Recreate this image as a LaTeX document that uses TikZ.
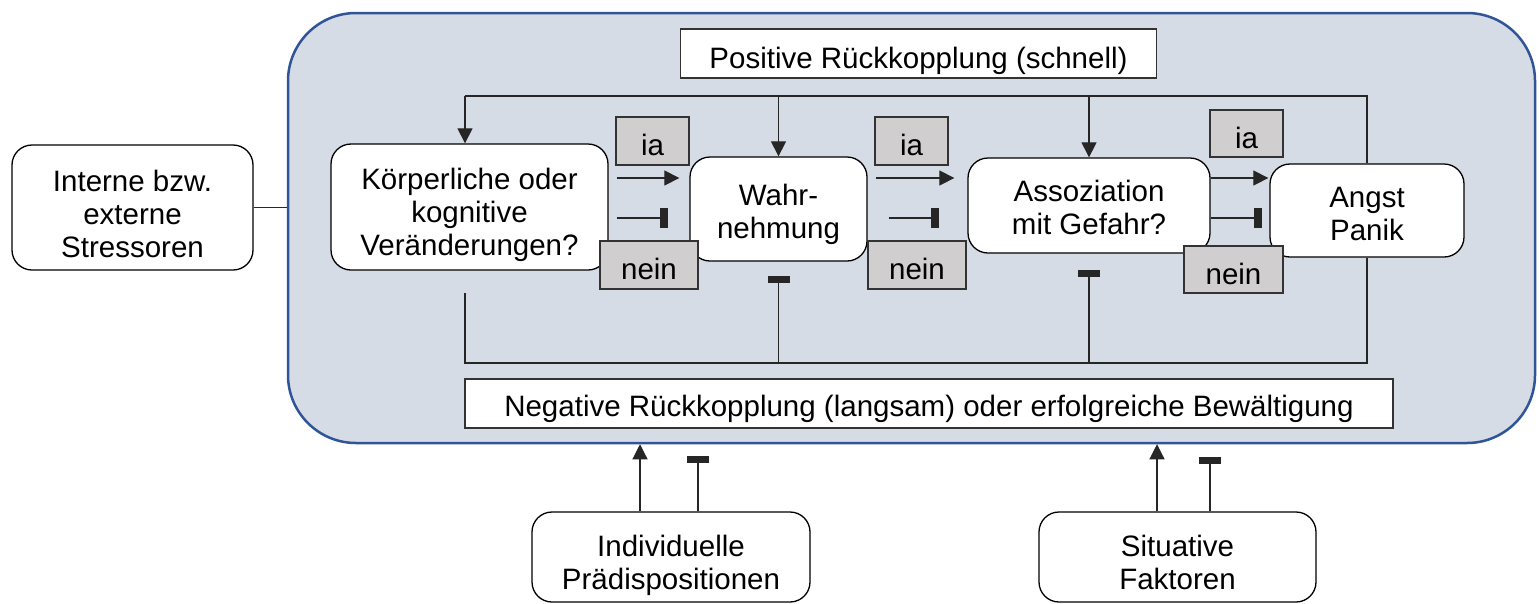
\documentclass[tikz,border=0pt]{standalone}
\usepackage{fontspec}
\setmainfont{Liberation Sans}
\usetikzlibrary{arrows.meta}
\definecolor{bgblue}{HTML}{D6DCE5}
\definecolor{edgeblue}{HTML}{2F5597}
\definecolor{graybox}{HTML}{D0CECE}
\begin{document}
\begin{tikzpicture}[x=1pt,y=-1pt,
  every node/.style={font=\fontsize{29.5}{33}\selectfont, align=center, inner sep=0pt},
  mainbox/.style={draw=black, line width=1.3pt, fill=white, rounded corners=20pt},
  labbox/.style={draw=black!80, line width=1.3pt, fill=graybox},
  titlebox/.style={draw=black!80, line width=1.3pt, fill=white},
  outerbox/.style={draw=edgeblue, line width=2.5pt, fill=bgblue, rounded corners=68pt},
  txt/.style={},
  conn/.style={line width=1.2pt, draw=black!85},
  arr/.style={conn, -{Triangle[length=15pt,width=15pt]}},
  inh/.style={conn, -{Rectangle[length=8pt,width=20pt]}},
  inhv/.style={conn, -{Rectangle[length=7pt,width=22pt]}}
]
\useasboundingbox (0,0) rectangle (1539,603);

\node[outerbox, minimum width=1247pt, minimum height=430pt] (outer) at (911.5,228) {};

% boxes
\node[mainbox, minimum width=241pt, minimum height=125pt] (stress) at (132.5,207.5) {};
\node[titlebox, minimum width=476pt, minimum height=49pt] (pos) at (918.5,53.5) {};
\node[titlebox, minimum width=928pt, minimum height=49pt] (neg) at (929,403.5) {};
\node[mainbox, minimum width=277pt, minimum height=126pt] (koerp) at (469.5,207) {};
\node[mainbox, minimum width=177pt, minimum height=104pt] (wahr) at (778.5,209) {};
\node[mainbox, minimum width=242pt, minimum height=95pt] (asso) at (1089,205.5) {};
\node[mainbox, minimum width=194pt, minimum height=93pt] (angst) at (1367,210.5) {};
\node[labbox, minimum width=73pt, minimum height=48pt] (ia1) at (652.5,141) {};
\node[labbox, minimum width=73pt, minimum height=48pt] (ia2) at (911.5,141) {};
\node[labbox, minimum width=73pt, minimum height=47pt] (ia3) at (1246.5,133.5) {};
\node[labbox, minimum width=98pt, minimum height=48pt] (nein1) at (649,265) {};
\node[labbox, minimum width=98pt, minimum height=48pt] (nein2) at (917,265) {};
\node[labbox, minimum width=99pt, minimum height=47pt] (nein3) at (1233.5,269.5) {};
\node[mainbox, minimum width=278pt, minimum height=90pt] (indiv) at (671,557) {};
\node[mainbox, minimum width=277pt, minimum height=90pt] (sit) at (1177.5,557) {};

% texts
\node[txt] (stress-t) at ([yshift=-6pt]stress.center) {Interne bzw.\\externe\\Stressoren};
\node[txt] (pos-t) at ([yshift=-7pt]pos.center) {Positive Rückkopplung (schnell)};
\node[txt] (neg-t) at ([yshift=-5pt]neg.center) {Negative Rückkopplung (langsam) oder erfolgreiche Bewältigung};
\node[txt] (koerp-t) at ([yshift=-8pt]koerp.center) {Körperliche oder\\kognitive\\Veränderungen?};
\node[txt] (wahr-t) at ([yshift=-5pt]wahr.center) {Wahr-\\nehmung};
\node[txt] (asso-t) at ([yshift=-2pt]asso.center) {Assoziation\\mit Gefahr?};
\node[txt] (angst-t) at ([yshift=-3pt]angst.center) {Angst\\Panik};
\node[txt] (ia1-t) at ([yshift=-4pt]ia1.center) {ia};
\node[txt] (ia2-t) at ([yshift=-4pt]ia2.center) {ia};
\node[txt] (ia3-t) at ([yshift=-4pt]ia3.center) {ia};
\node[txt] (nein1-t) at ([yshift=-4pt]nein1.center) {nein};
\node[txt] (nein2-t) at ([yshift=-4pt]nein2.center) {nein};
\node[txt] (nein3-t) at ([yshift=-4pt]nein3.center) {nein};
\node[txt] (indiv-t) at ([yshift=-8pt]indiv.center) {Individuelle\\Prädispositionen};
\node[txt] (sit-t) at ([yshift=-5pt]sit.center) {Situative\\Faktoren};

\coordinate (topL) at (465,96);
\coordinate (botL) at (465,363);
\coordinate (kend) at (465,293);
\coordinate (yA) at (0,178);
\coordinate (yI) at (0,218);

% stressor link
\draw[conn] (stress.east) -- (stress.east -| outer.west);

% positive feedback
\draw[conn] (angst.north) |- (topL);
\draw[arr] (topL) -- (topL |- koerp.north);
\draw[arr] (wahr.north |- topL) -- (wahr.north);
\draw[arr] (asso.north |- topL) -- (asso.north);

% negative feedback
\draw[conn] (angst.south) |- (botL) -- (kend);
\draw[inhv, shorten >=14pt] (wahr.south |- botL) -- (wahr.south);
\draw[inhv, shorten >=16pt] (asso.south |- botL) -- (asso.south);

% ja / nein links
\draw[arr, shorten <=8pt, shorten >=10pt] (koerp.east |- yA) -- (wahr.west |- yA);
\draw[inh, shorten <=8pt, shorten >=21pt] (koerp.east |- yI) -- (wahr.west |- yI);
\draw[arr, shorten <=8pt, shorten >=13pt] (wahr.east |- yA) -- (asso.west |- yA);
\draw[inh, shorten <=21pt, shorten >=28pt] (wahr.east |- yI) -- (asso.west |- yI);
\draw[arr, shorten >=1pt] (asso.east |- yA) -- (angst.west |- yA);
\draw[inh, shorten >=7pt] (asso.east |- yI) -- (angst.west |- yI);

% bottom influences
\coordinate (pa) at ([xshift=-31pt]indiv.north);
\coordinate (pb) at ([xshift=27pt]indiv.north);
\coordinate (sa) at ([xshift=-20.5pt]sit.north);
\coordinate (sb) at ([xshift=32.5pt]sit.north);
\draw[arr] (pa) -- (pa |- outer.south);
\draw[inhv, shorten >=12pt] (pb) -- (pb |- outer.south);
\draw[arr] (sa) -- (sa |- outer.south);
\draw[inhv, shorten >=13pt] (sb) -- (sb |- outer.south);
\end{tikzpicture}
\end{document}
